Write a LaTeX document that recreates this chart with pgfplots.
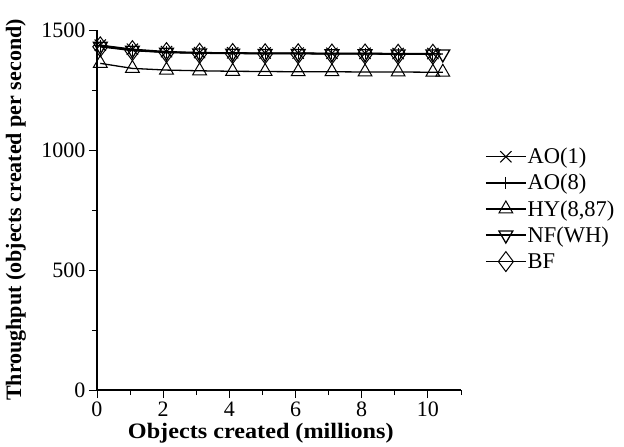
\documentclass[border=0pt]{standalone}
\usepackage{fontspec}
\setmainfont{Liberation Serif}
\usepackage{graphicx}
\usepackage{pgfplots}
\pgfplotsset{compat=1.18}
\begin{document}
\begin{tikzpicture}
\begin{axis}[
 name=ax,
 scale only axis, width=364bp, height=360bp,
 xmin=0, xmax=11, ymin=0, ymax=1500,
 axis x line=bottom, axis y line=left,
 axis line style={-, line width=1.1pt},
 tick align=outside,
 xtick={0,2,...,10}, minor xtick={1,3,...,11},
 ytick={0,500,1000,1500}, minor ytick={250,750,1250},
 major tick length=8bp, minor tick length=5bp,
 tick style={black, line width=0.9pt},
 /pgf/number format/assume math mode=true,
 /pgf/number format/1000 sep={},
 ticklabel style={font=\fontsize{22bp}{24bp}\selectfont},
 label style={font=\bfseries\fontsize{22bp}{24bp}\selectfont},
 xlabel={\scalebox{1.1}[1]{Objects created (millions)}},
 xlabel style={at={(axis description cs:0.45,-0.119)}, anchor=center},
 ylabel={Throughput (objects created per second)},
 ylabel style={at={(axis description cs:-0.2225,0.5)}, anchor=center},
 legend style={at={(1.066,0.675)}, anchor=north west, draw=none, fill=none,
   font=\fontsize{22.5bp}{24bp}\selectfont, row sep=7bp, inner sep=0pt,
   nodes={inner sep=1bp}},
 legend cell align=left,
 legend image code/.code={\draw[mark repeat=2,mark phase=2] plot coordinates {(0bp,0bp) (20bp,0bp) (40bp,0bp)};},
 every axis plot/.append style={black, line width=1.3pt, mark options={solid, line width=1pt, fill=white}},
 clip=false,
]
\addplot[mark=x, mark size=8] coordinates {(0.1,1437) (1.07,1420) (2.1,1410) (3.1,1406) (4.1,1405) (5.08,1404) (6.08,1404) (7.1,1403) (8.1,1403) (9.1,1402) (10.15,1402)};
\addlegendentry{AO(1)}
\addplot[mark=+, mark size=6] coordinates {(0.1,1435) (1.07,1418) (2.1,1408) (3.1,1405) (4.1,1404) (5.08,1403) (6.08,1403) (7.1,1402) (8.1,1402) (9.1,1401) (10.15,1401)};
\addlegendentry{AO(8)}
\addplot[mark=triangle, mark size=8] coordinates {(0.1,1361) (1.07,1340) (2.1,1333) (3.1,1330) (4.1,1328) (5.08,1327) (6.08,1326) (7.1,1326) (8.1,1325) (9.1,1325) (10.15,1324) (10.45,1324)};
\addlegendentry{HY(8,87)}
\addplot[mark=triangle, mark size=8, mark options={rotate=180}] coordinates {(0.1,1432) (1.07,1416) (2.1,1407) (3.1,1404) (4.1,1403) (5.08,1402) (6.08,1402) (7.1,1401) (8.1,1401) (9.1,1400) (10.15,1400) (10.45,1400)};
\addlegendentry{NF(WH)}
\addplot[mark=diamond, mark size=10] coordinates {(0.1,1430) (1.07,1414) (2.1,1406) (3.1,1403) (4.1,1402) (5.08,1401) (6.08,1401) (7.1,1400) (8.1,1400) (9.1,1399) (10.15,1399)};
\addlegendentry{BF}
\end{axis}
\path (ax.south west) ++(-97bp,-57bp) rectangle ++(624bp,447bp);
\end{tikzpicture}
\end{document}
